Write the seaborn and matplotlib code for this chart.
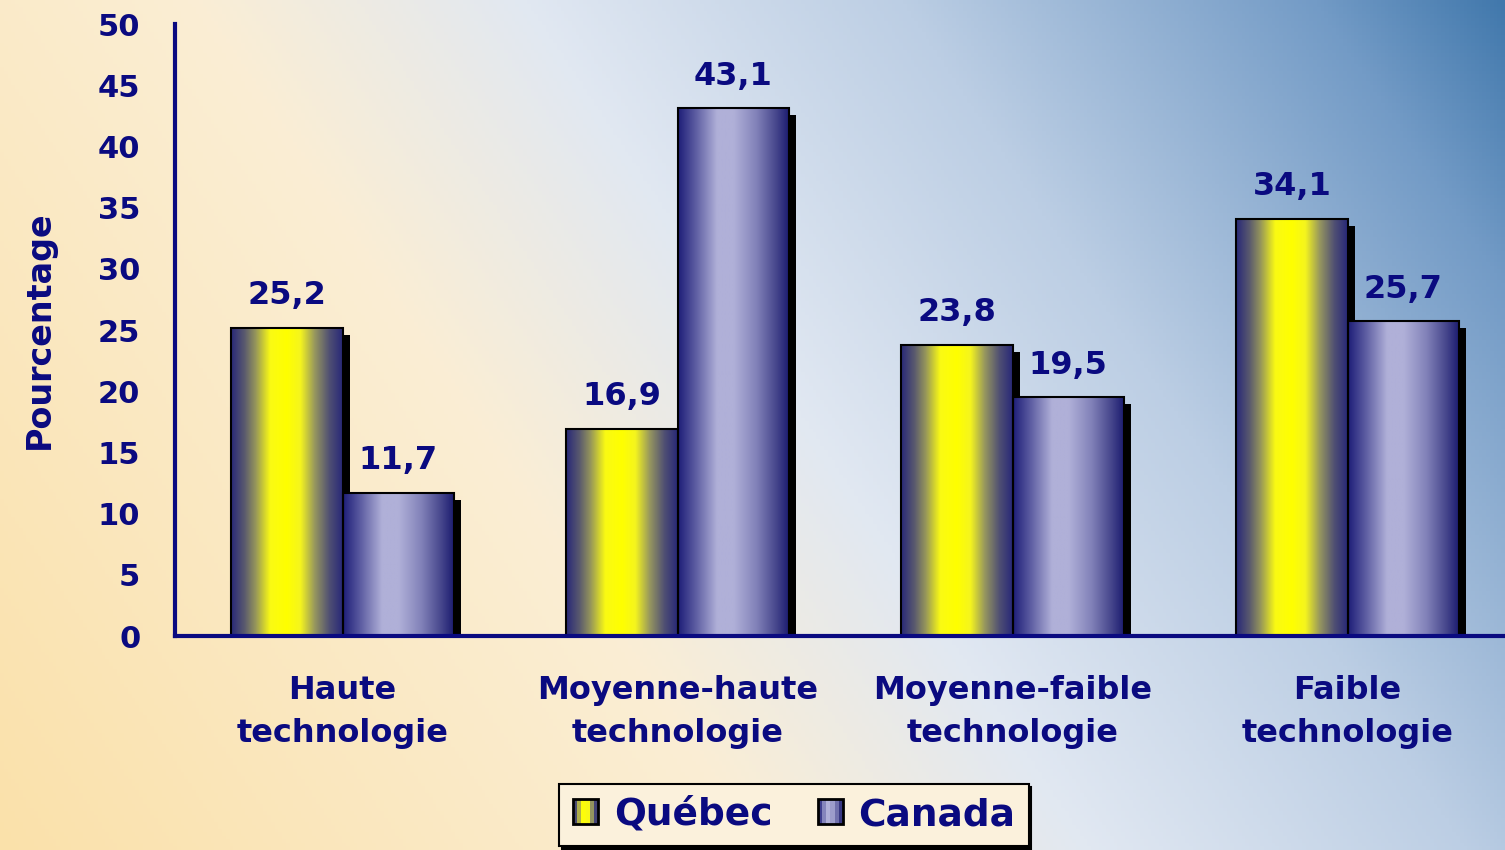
import numpy as np
import pandas as pd
import matplotlib
matplotlib.use("Agg")
import matplotlib.pyplot as plt
import matplotlib.transforms as mtransforms
from matplotlib.colors import LinearSegmentedColormap
from matplotlib.patches import Rectangle
from matplotlib.legend_handler import HandlerBase
import seaborn as sns

# Données
categories = ["Haute\ntechnologie", "Moyenne-haute\ntechnologie",
              "Moyenne-faible\ntechnologie", "Faible\ntechnologie"]
quebec = [25.2, 16.9, 23.8, 34.1]
canada = [11.7, 43.1, 19.5, 25.7]
regions = ["Québec", "Canada"]
yticks = list(range(0, 55, 5))

df = pd.DataFrame({
    "cat": categories * 2,
    "val": quebec + canada,
    "region": [regions[0]] * 4 + [regions[1]] * 4,
})

NAVY = "#0a0a80"

sns.set_theme(style="white")
plt.rcParams["font.family"] = ["DejaVu Sans"]

fig = plt.figure(figsize=(15.05, 8.5), dpi=100)

# fond dégradé crème -> bleu
bg = fig.add_axes([0, 0, 1, 1], zorder=-10)
bg.axis("off")
gx, gy = np.meshgrid(np.linspace(0, 1, 400), np.linspace(0, 1, 240))
t = np.clip(gx * 0.8 + gy * 0.3, 0, 1.1)
stops = [0, 0.4, 0.58, 0.78, 1.0, 1.1]
cols = np.array([(250, 225, 170), (251, 238, 212), (225, 232, 242),
                 (188, 206, 228), (115, 155, 198), (65, 120, 172)]) / 255
img = np.dstack([np.interp(t, stops, cols[:, k]) for k in range(3)])
bg.imshow(img, origin="lower", aspect="auto", extent=(0, 1, 0, 1))
bg.set_xlim(0, 1)
bg.set_ylim(0, 1)

ax = fig.add_axes([175 / 1505, 1 - 636 / 850, 1340 / 1505, 612 / 850])
ax.set_facecolor("none")

sns.barplot(data=df, x="cat", y="val", hue="region", width=0.663,
            palette={"Québec": "yellow", "Canada": "#b0b0d8"},
            edgecolor="black", linewidth=1.5, legend=False, ax=ax, zorder=3)

cmap_q = LinearSegmentedColormap.from_list("q", [
    (0, (40/255, 40/255, 120/255)), (0.12, (90/255, 90/255, 110/255)),
    (0.22, (150/255, 150/255, 90/255)), (0.35, (250/255, 250/255, 20/255)),
    (0.5, (1, 1, 0)), (0.62, (245/255, 245/255, 30/255)),
    (0.75, (150/255, 150/255, 95/255)), (0.88, (80/255, 80/255, 115/255)),
    (1, (40/255, 40/255, 120/255))])
cmap_c = LinearSegmentedColormap.from_list("c", [
    (0, (30/255, 30/255, 120/255)), (0.15, (90/255, 90/255, 160/255)),
    (0.35, (176/255, 176/255, 216/255)), (0.5, (176/255, 176/255, 216/255)),
    (0.7, (130/255, 130/255, 185/255)), (0.88, (70/255, 70/255, 140/255)),
    (1, (25/255, 25/255, 110/255))])
grad = np.linspace(0, 1, 256).reshape(1, -1)

shadow_tr = ax.transData + mtransforms.ScaledTranslation(0.07, -0.07, fig.dpi_scale_trans)
for cont, cmap in zip(ax.containers, [cmap_q, cmap_c]):
    for p in cont.patches:
        x0, w, h = p.get_x(), p.get_width(), p.get_height()
        ax.add_patch(Rectangle((x0, 0), w, h, facecolor="black",
                               edgecolor="none", transform=shadow_tr, zorder=2))
        ax.imshow(grad, cmap=cmap, aspect="auto", extent=(x0, x0 + w, 0, h),
                  zorder=2.5)
        p.set_facecolor("none")
    ax.bar_label(cont, labels=[f"{v:.1f}".replace(".", ",") for v in cont.datavalues],
                 padding=12, fontsize=23, fontweight="bold", color=NAVY)

ax.set_xlim(-0.5, 3.5)
ax.set_ylim(0, 50)
ax.set_yticks(yticks)
ax.set_xticks([-0.5, 0.5, 1.5, 2.5])
ax.set_xticklabels([])
ax.set_xticks(range(len(categories)), minor=True)
ax.set_xticklabels(categories, minor=True, fontsize=23, fontweight="bold",
                   color=NAVY, linespacing=1.5)
ax.tick_params(axis="x", which="minor", length=0, pad=28)
ax.tick_params(axis="x", which="major", direction="out", length=9, width=3, color=NAVY)
ax.tick_params(axis="y", direction="out", length=9, width=2.5, color=NAVY,
               pad=16, labelsize=22, labelcolor=NAVY)
for lab in ax.get_yticklabels():
    lab.set_fontweight("bold")
ax.set_xlabel("")
ax.set_ylabel("Pourcentage", fontsize=24, fontweight="bold", color=NAVY, labelpad=30)

for s in ["top", "right"]:
    ax.spines[s].set_visible(False)
for s in ["left", "bottom"]:
    ax.spines[s].set_color(NAVY)
    ax.spines[s].set_linewidth(3)
ax.spines["bottom"].set_zorder(4)


class GradHandler(HandlerBase):
    def __init__(self, cmap):
        super().__init__()
        self.cmap = cmap

    def create_artists(self, legend, orig, xd, yd, width, height, fontsize, trans):
        s = height * 0.95
        x0 = xd + (width - s) / 2
        y0 = yd + (height - s) / 2
        arts = []
        n = 6
        for i in range(n):
            arts.append(Rectangle((x0 + i * s / n, y0), s / n, s,
                                  facecolor=self.cmap((i + 0.5) / n),
                                  edgecolor="none", transform=trans))
        arts.append(Rectangle((x0, y0), s, s, facecolor="none",
                              edgecolor="black", lw=2, transform=trans))
        return arts


hq = Rectangle((0, 0), 1, 1)
hc = Rectangle((0, 0), 1, 1)
leg = fig.legend([hq, hc], regions, loc="center", bbox_to_anchor=(794 / 1505, 1 - 815 / 850),
                 ncol=2, frameon=True, fancybox=False, shadow={"color": "black", "alpha": 1},
                 handler_map={hq: GradHandler(cmap_q), hc: GradHandler(cmap_c)},
                 handlelength=0.7, handletextpad=0.4, columnspacing=1.2,
                 borderpad=0.35, borderaxespad=0.3, prop={"size": 27, "weight": "bold"})
leg.get_frame().set_facecolor("#fbf1dc")
leg.get_frame().set_edgecolor("black")
leg.get_frame().set_linewidth(1.5)
for txt in leg.get_texts():
    txt.set_color(NAVY)

fig.savefig("out.png", dpi=100)
